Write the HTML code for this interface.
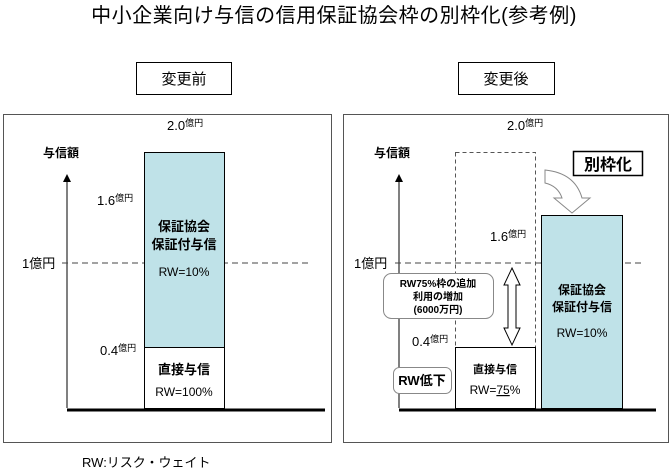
<!DOCTYPE html>
<html><head><meta charset="utf-8"><style>
body{margin:0;background:#fff;}
svg{display:block;font-family:"Liberation Sans","Noto Sans CJK JP",sans-serif;}
.b{font-weight:bold;}
</style></head><body>
<svg width="671" height="475" viewBox="0 0 671 475" xmlns="http://www.w3.org/2000/svg">
<defs>
<marker id="ah" markerWidth="8" markerHeight="8" refX="4" refY="4" orient="auto"><path d="M0,0 L8,4 L0,8 z" fill="#000"/></marker>
</defs>
<text x="334" y="22" font-size="20" text-anchor="middle" letter-spacing="0.5">中小企業向け与信の信用保証協会枠の別枠化(参考例)</text>
<rect x="136.5" y="62.5" width="95" height="32" fill="#fff" stroke="#000"/>
<text x="184" y="84" font-size="15" text-anchor="middle">変更前</text>
<rect x="458.5" y="62.5" width="96" height="32" fill="#fff" stroke="#000"/>
<text x="506" y="84" font-size="15" text-anchor="middle">変更後</text>

<!-- left panel -->
<rect x="3.5" y="114.5" width="328" height="328" fill="#fff" stroke="#555"/>
<text x="167" y="130" font-size="13">2.0<tspan font-size="9" dy="-4">億円</tspan></text>
<text x="43" y="157" font-size="12" class="b">与信額</text>
<line x1="67" y1="408" x2="67" y2="178" stroke="#000" marker-end="url(#ah)"/>
<line x1="62" y1="263" x2="310" y2="263" stroke="#444" stroke-dasharray="6,4"/>
<text x="22" y="268" font-size="13">1億円</text>
<rect x="144.5" y="152.5" width="80" height="195" fill="#bfe2e8" stroke="#000"/>
<rect x="144.5" y="347.5" width="80" height="61" fill="#fff" stroke="#000"/>
<text x="97" y="205" font-size="13">1.6<tspan font-size="9" dy="-4">億円</tspan></text>
<text x="100" y="355" font-size="13">0.4<tspan font-size="9" dy="-4">億円</tspan></text>
<text x="184" y="231" font-size="13" class="b" text-anchor="middle">保証協会</text>
<text x="184" y="249" font-size="13" class="b" text-anchor="middle">保証付与信</text>
<text x="184" y="276" font-size="12" text-anchor="middle">RW=10%</text>
<text x="184" y="374" font-size="13" class="b" text-anchor="middle">直接与信</text>
<text x="184" y="396" font-size="12" text-anchor="middle">RW=100%</text>
<line x1="67" y1="410" x2="325" y2="410" stroke="#000" stroke-width="3"/>

<!-- right panel -->
<rect x="343.5" y="114.5" width="325" height="328" fill="#fff" stroke="#555"/>
<text x="507" y="130" font-size="13">2.0<tspan font-size="9" dy="-4">億円</tspan></text>
<text x="374" y="157" font-size="12" class="b">与信額</text>
<line x1="399" y1="408" x2="399" y2="178" stroke="#000" marker-end="url(#ah)"/>
<line x1="395" y1="263" x2="641" y2="263" stroke="#444" stroke-dasharray="6,4"/>
<text x="354" y="268" font-size="13">1億円</text>
<rect x="455.5" y="152.5" width="80" height="195" fill="none" stroke="#555" stroke-dasharray="4,3"/>
<rect x="455.5" y="347.5" width="80" height="61" fill="#fff" stroke="#000"/>
<rect x="541.5" y="215.5" width="81" height="193" fill="#bfe2e8" stroke="#000"/>
<text x="490" y="241" font-size="13">1.6<tspan font-size="9" dy="-4">億円</tspan></text>
<text x="412" y="346" font-size="13">0.4<tspan font-size="9" dy="-4">億円</tspan></text>
<text x="582" y="294" font-size="12" class="b" text-anchor="middle">保証協会</text>
<text x="582" y="311" font-size="12" class="b" text-anchor="middle">保証付与信</text>
<text x="582" y="337" font-size="12" text-anchor="middle">RW=10%</text>
<text x="495" y="373" font-size="11" class="b" text-anchor="middle">直接与信</text>
<text x="495" y="394" font-size="12" text-anchor="middle">RW=<tspan text-decoration="underline">75</tspan>%</text>
<!-- 別枠化 -->
<rect x="573.5" y="151.5" width="69" height="24" fill="#fff" stroke="#000" stroke-width="1.5"/>
<text x="608" y="170" font-size="16" class="b" text-anchor="middle">別枠化</text>
<!-- curved arrow -->
<path d="M545,170 Q575,173 582,198 L590,198 L572,213 L554,198 L562,198 Q558,186 545,183 Z" fill="#fff" stroke="#888"/>
<!-- double arrow -->
<path d="M512,268 L520,285 L516,285 L516,328 L520,328 L512,345 L504,328 L508,328 L508,285 L504,285 Z" fill="#fff" stroke="#000"/>
<!-- callouts -->
<rect x="383.5" y="273.5" width="110" height="45" rx="8" fill="#fff" stroke="#888"/>
<text x="438" y="287" font-size="10" class="b" text-anchor="middle">RW75%枠の追加</text>
<text x="438" y="300" font-size="10" class="b" text-anchor="middle">利用の増加</text>
<text x="438" y="313" font-size="10" class="b" text-anchor="middle">(6000万円)</text>
<rect x="393.5" y="367.5" width="58" height="26" rx="6" fill="#fff" stroke="#888"/>
<text x="422" y="385" font-size="13" class="b" text-anchor="middle">RW低下</text>
<line x1="399" y1="410" x2="656" y2="410" stroke="#000" stroke-width="3"/>

<text x="82" y="467" font-size="13">RW:リスク・ウェイト</text>
</svg>
</body></html>
